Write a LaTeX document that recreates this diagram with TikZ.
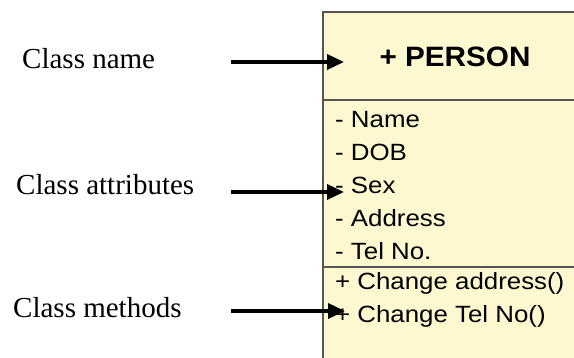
\documentclass[tikz,border=0pt]{standalone}
\usepackage{fontspec}
\setmainfont{Liberation Serif}
\newfontfamily\umlfont[FakeStretch=1.1]{Liberation Sans}
\newfontfamily\umlbold[FakeStretch=1.06]{Liberation Sans Bold}
\usepackage{tikz}
\usetikzlibrary{arrows.meta,positioning}
\definecolor{uml-fill}{HTML}{FDF8D0}
\definecolor{uml-line}{HTML}{555555}

\begin{document}
\begin{tikzpicture}[
  x=1pt, y=-1pt,
  label/.style={
    anchor=base west, inner sep=0pt,
    font=\fontsize{29}{34}\selectfont
  },
  member/.style={
    anchor=base west, inner sep=0pt,
    font=\umlfont\fontsize{23.5}{28}\selectfont
  },
  title/.style={
    anchor=base, inner sep=0pt,
    font=\umlbold\fontsize{28}{33}\selectfont
  },
  pointer/.style={
    -{Triangle[length=17pt,width=15pt]}, line width=3.5pt, black
  }
]
\useasboundingbox (0,0) rectangle (574,358);
\clip (0,0) rectangle (574,358);

%% Class box
\draw[uml-line, fill=uml-fill, line width=1.2pt] (323,12) rectangle (590,370);
\draw[uml-line, line width=1.2pt] (323,100) -- (590,100);
\draw[uml-line, line width=1.2pt] (323,267) -- (590,267);

%% Class name
\node[title] (person) at (455,67) {+ PERSON};

%% Attributes
\node[member] (attrname) at (335,128) {- Name};
\node[member] (attrdob) at (335,161) {- DOB};
\node[member] (attrsex) at (335,194) {- Sex};
\node[member] (attraddr) at (335,227) {- Address};
\node[member] (attrtel) at (335,260) {- Tel No.};

%% Methods
\node[member] (opaddr) at (335,290) {+ Change address()};
\node[member] (optel) at (335,323) {+ Change Tel No()};

%% Labels
\node[label] (lblname) at (22,69) {Class name};
\node[label] (lblattr) at (16,195) {Class attributes};
\node[label] (lblmeth) at (13,318) {Class methods};

%% Arrows
\coordinate (namefrom) at (231,62);
\coordinate (nameto) at (344,62);
\coordinate (attrfrom) at (231,192);
\coordinate (attrto) at (344,192);
\coordinate (methfrom) at (231,311);
\coordinate (methto) at (345,311);
\draw[pointer] (namefrom) -- (nameto);
\draw[pointer] (attrfrom) -- (attrto);
\draw[pointer] (methfrom) -- (methto);

\end{tikzpicture}
\end{document}
